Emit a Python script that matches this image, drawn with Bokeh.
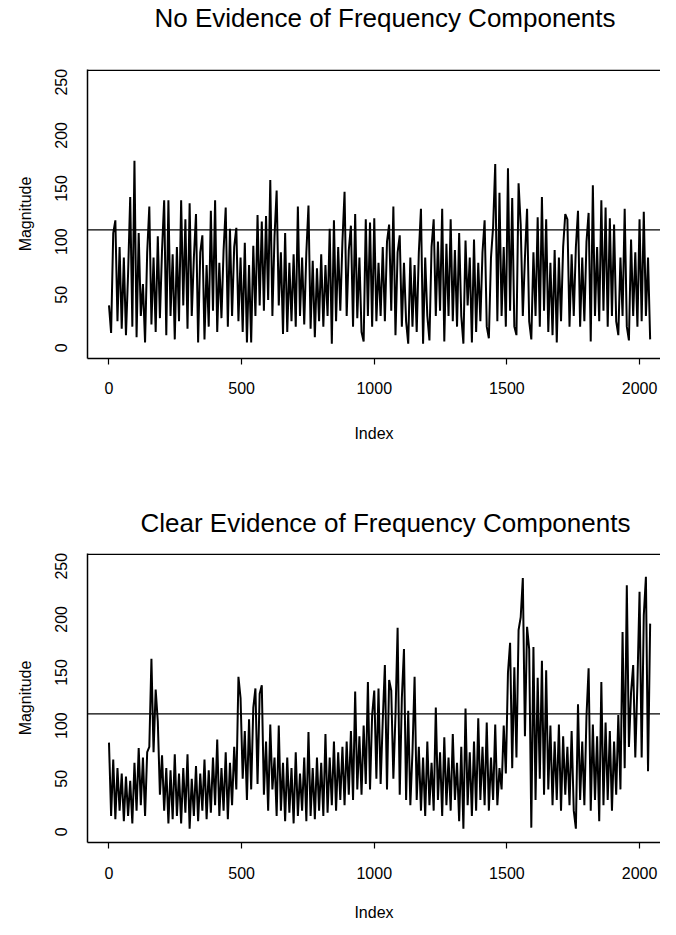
from bokeh.plotting import figure
from bokeh.layouts import column
from bokeh.models import Span, Range1d, Title
from bokeh.embed import file_html
from bokeh.resources import INLINE

# ---------------- data (one value per 8 indices) ----------------
index = list(range(0, 2048, 8))

mag_no_evidence = [
    40, 14, 108, 120, 25, 95, 18, 85, 12, 70, 142, 20, 176, 10, 108, 30,
    60, 5, 90, 133, 22, 85, 15, 105, 28, 92, 139, 12, 139, 30, 88, 8,
    95, 25, 139, 40, 121, 18, 136, 30, 85, 126, 5, 90, 106, 8, 78, 20,
    129, 35, 139, 15, 80, 28, 92, 132, 20, 112, 30, 95, 113, 25, 85, 15,
    99, 5, 78, 5, 96, 30, 125, 40, 119, 35, 124, 45, 158, 30, 105, 148,
    40, 90, 13, 108, 15, 80, 25, 88, 20, 133, 30, 85, 22, 90, 134, 18,
    82, 10, 75, 25, 88, 20, 78, 30, 112, 4, 120, 25, 95, 35, 100, 147,
    30, 92, 115, 20, 126, 28, 85, 15, 6, 121, 30, 118, 20, 122, 25, 80,
    30, 95, 25, 100, 116, 35, 133, 12, 90, 106, 20, 80, 25, 4, 85, 20,
    78, 15, 90, 131, 4, 85, 30, 7, 95, 121, 30, 100, 35, 131, 6, 98,
    30, 121, 25, 92, 20, 108, 30, 4, 101, 40, 85, 5, 102, 15, 80, 25,
    90, 120, 20, 9, 85, 114, 173, 25, 146, 30, 95, 20, 169, 35, 141, 20,
    12, 155, 116, 30, 85, 131, 25, 8, 90, 30, 123, 20, 142, 35, 121, 15,
    80, 12, 92, 5, 85, 25, 95, 126, 121, 20, 88, 30, 95, 129, 20, 85,
    25, 100, 127, 6, 153, 30, 95, 25, 139, 35, 132, 20, 122, 30, 116, 25,
    12, 85, 30, 131, 20, 7, 102, 30, 90, 20, 121, 25, 128, 30, 85, 8,
]

mag_clear_evidence = [
    84, 15, 68, 12, 60, 20, 55, 10, 52, 15, 48, 8, 65, 20, 79, 25,
    70, 15, 75, 80, 163, 75, 134, 104, 35, 72, 20, 60, 8, 58, 12, 73,
    15, 55, 8, 60, 18, 73, 3, 50, 15, 62, 10, 55, 20, 68, 12, 58,
    18, 70, 25, 87, 15, 60, 20, 75, 12, 65, 25, 80, 40, 146, 126, 50,
    95, 30, 106, 40, 117, 135, 45, 130, 138, 35, 85, 20, 101, 40, 70, 15,
    100, 20, 65, 10, 70, 18, 60, 8, 75, 15, 55, 20, 70, 10, 94, 15,
    60, 12, 70, 20, 65, 15, 92, 18, 70, 25, 85, 20, 75, 30, 80, 25,
    85, 35, 95, 30, 132, 40, 90, 35, 100, 45, 141, 40, 110, 133, 50, 135,
    45, 105, 157, 40, 143, 133, 50, 110, 192, 35, 126, 172, 30, 114, 25, 75,
    146, 30, 80, 20, 70, 15, 85, 25, 65, 20, 117, 30, 75, 15, 89, 25,
    70, 20, 92, 30, 65, 10, 80, 3, 116, 25, 75, 15, 85, 20, 107, 30,
    80, 25, 103, 20, 70, 30, 101, 25, 60, 40, 100, 55, 150, 178, 60, 155,
    70, 190, 202, 239, 90, 193, 172, 4, 174, 30, 145, 50, 161, 35, 152, 40,
    100, 25, 85, 30, 101, 20, 90, 35, 80, 25, 95, 20, 3, 120, 30, 85,
    25, 109, 154, 20, 101, 30, 90, 10, 141, 25, 103, 30, 95, 20, 85, 35,
    110, 40, 188, 60, 232, 80, 131, 157, 70, 140, 226, 70, 204, 240, 57, 196,
]

titles = ["No Evidence of Frequency Components", "Clear Evidence of Frequency Components"]
threshold = 111
x_ticks = [0, 500, 1000, 1500, 2000]
y_ticks = [0, 50, 100, 150, 200, 250]
x_label = "Index"
y_label = "Magnitude"

FONT = "Liberation Sans"


def make_panel(title, values, height, border_top, border_bottom, title_standoff,
               title_offset, spacer_standoff, label_standoff, axis_label_standoff):
    p = figure(width=660, height=height,
               x_range=Range1d(-81, 2079), y_range=Range1d(-10, 262),
               output_backend="svg", toolbar_location=None,
               min_border_left=87, min_border_right=0,
               min_border_top=border_top, min_border_bottom=border_bottom)
    p.outline_line_color = None
    p.grid.visible = False
    p.background_fill_color = "white"
    p.border_fill_color = "white"

    if spacer_standoff is not None:
        # blank band between the box and the title, to lift the title
        p.add_layout(Title(text="\u00a0", text_font=FONT, text_font_size="26px",
                           standoff=spacer_standoff), "above")

    p.title.text = title
    p.title.align = "left"
    p.title.offset = title_offset
    p.title.vertical_align = "bottom"
    p.title.text_font = FONT
    p.title.text_font_size = "26px"
    p.title.text_font_style = "normal"
    p.title.text_color = "black"
    p.title.standoff = title_standoff

    p.line(index, values, line_color="black", line_width=2.0)
    p.add_layout(Span(location=threshold, dimension="width",
                      line_color="black", line_width=1.3))
    # top side of the box
    p.add_layout(Span(location=261.4, dimension="width",
                      line_color="black", line_width=1.5))

    for ax in (p.xaxis, p.yaxis):
        ax.axis_line_color = "black"
        ax.axis_line_width = 1.5
        ax.minor_tick_line_color = None
        ax.major_label_text_font = FONT
        ax.major_label_text_font_size = "16px"
        ax.major_label_text_color = "black"
        ax.axis_label_text_font = FONT
        ax.axis_label_text_font_size = "16px"
        ax.axis_label_text_font_style = "normal"
        ax.axis_label_text_color = "black"

    p.xaxis.ticker = x_ticks
    p.xaxis.major_tick_out = 6
    p.xaxis.major_tick_in = 0
    p.xaxis.major_tick_line_color = "black"
    p.xaxis.major_tick_line_width = 1.2
    p.xaxis.major_label_standoff = label_standoff
    p.xaxis.axis_label = x_label
    p.xaxis.axis_label_standoff = axis_label_standoff

    p.yaxis.ticker = y_ticks
    p.yaxis.major_tick_out = 0
    p.yaxis.major_tick_in = 0
    p.yaxis.major_tick_line_color = None
    p.yaxis.major_label_orientation = "vertical"
    p.yaxis.major_label_standoff = 21
    p.yaxis.axis_label = y_label
    p.yaxis.axis_label_standoff = 18
    return p


p1 = make_panel(titles[0], mag_no_evidence, height=489, border_top=69, border_bottom=131,
                title_standoff=0, title_offset=67, spacer_standoff=5,
                label_standoff=17, axis_label_standoff=28)
p2 = make_panel(titles[1], mag_clear_evidence, height=436, border_top=64, border_bottom=83,
                title_standoff=32, title_offset=53, spacer_standoff=None,
                label_standoff=18, axis_label_standoff=22)

layout = column(p1, p2, spacing=0)
open("out.html", "w").write(file_html(layout, INLINE))
